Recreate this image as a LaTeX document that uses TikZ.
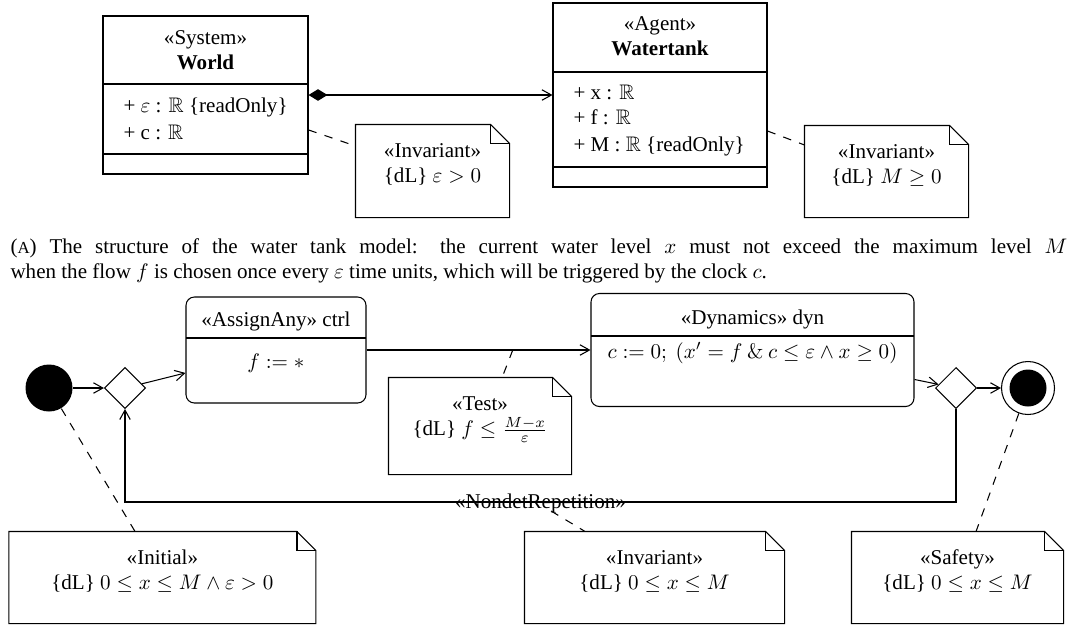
\documentclass[tikz,border=0pt]{standalone}
\usepackage[no-math]{fontspec}
\setmainfont{Liberation Serif}
\usepackage{amssymb}
\usetikzlibrary{shapes.geometric,arrows.meta}

\newcommand\pxl{0.475pt}
\newcommand\umlnote[6]{%
  \node[notebox={#4}{#5}] (#1) at (#2,#3) {};
  \draw (#1.north west) -- ([xshift=-9pt]#1.north east) -- ([yshift=-9pt]#1.north east)
    -- (#1.south east) -- (#1.south west) -- cycle;
  \draw ([xshift=-9pt]#1.north east) |- ([yshift=-9pt]#1.north east);
  \node[align=center, inner sep=0pt] (#1txt) at ([yshift=3pt]#1.center) {#6};
}

\tikzset{
  notebox/.style n args={2}{minimum width=#1*\pxl, minimum height=#2*\pxl, inner sep=0pt},
  clss/.style n args={2}{draw, minimum width=#1*\pxl, minimum height=#2*\pxl, inner sep=0pt},
  actbox/.style n args={2}{clss={#1}{#2}, rounded corners=4pt},
  txt/.style={inner sep=0pt, text height=1.5ex, text depth=.25ex},
  ctrlflow/.style={-{Straight Barb[length=4.5pt,width=5pt]}},
  noteline/.style={dash pattern=on 4pt off 4pt},
  decision/.style={draw, diamond, aspect=1, minimum size=41*\pxl, inner sep=0pt},
}

\begin{document}
\begin{tikzpicture}[x=\pxl, y=-\pxl, line width=0.5pt]
\useasboundingbox (0,0) rectangle (1069,624);

% structure
\node[clss={205}{158}] (world) at (205.5,95) {};
\draw (103,84) -- (308,84);
\draw (103,154) -- (308,154);
\node[txt] (worldst) at (205.5,38) {«System»};
\node[txt] (worldname) at (205.5,63) {\textbf{World}};
\node[txt, anchor=west] (worldeps) at (123,106) {+ $\varepsilon$ : $\mathbb{R}$ \{readOnly\}};
\node[txt, anchor=west] (worldc) at (123,133) {+ c : $\mathbb{R}$};

\node[clss={214}{184}] (tank) at (660,95) {};
\draw (553,72) -- (767,72);
\draw (553,167) -- (767,167);
\node[txt] (tankst) at (660,24) {«Agent»};
\node[txt] (tankname) at (660,49) {\textbf{Watertank}};
\node[txt, anchor=west] (tankx) at (573,93) {+ x : $\mathbb{R}$};
\node[txt, anchor=west] (tankf) at (573,118) {+ f : $\mathbb{R}$};
\node[txt, anchor=west] (tankm) at (573,145) {+ M : $\mathbb{R}$ \{readOnly\}};

\draw[{Diamond[length=9pt,width=5.5pt]}-{Straight Barb[length=4.5pt,width=5pt]}] (world) -- (tank);

\umlnote{worldinv}{432.5}{171}{153}{92}{«Invariant»\\\{dL\} $\varepsilon > 0$}
\umlnote{tankinv}{886.5}{171.5}{163}{91}{«Invariant»\\\{dL\} $M \geq 0$}
\draw[noteline] ([yshift=-16.6pt]world.east) -- ([yshift=11.9pt]worldinv.west);
\draw[noteline] ([yshift=-17.1pt]tank.east) -- ([yshift=12.6pt]tankinv.west);

% caption
\node[anchor=base west, inner sep=0pt] (capa) at (10,253) {\makebox[502pt][s]{({\footnotesize A}) The structure of the water tank model: the current water level $x$ must not exceed the maximum level $M$}};
\node[anchor=base west, inner sep=0pt] (capb) at (10,278) {when the flow $f$ is chosen once every $\varepsilon$ time units, which will be triggered by the clock $c$.};

% activity
\node[circle, fill=black, minimum size=47*\pxl, inner sep=0pt] (start) at (49,388) {};
\node[decision] (d1) at (125,388) {};

\node[actbox={180}{106}] (ctrl) at (276,350) {};
\draw (186,338) -- (366,338);
\node[txt] (ctrlst) at (276,320) {«AssignAny» ctrl};
\node[txt] (ctrlop) at (276,362) {$f := \ast$};

\node[actbox={323}{113}] (dyn) at (752.5,350) {};
\draw (591,336) -- (914,336);
\node[txt] (dynst) at (752.5,318) {«Dynamics» dyn};
\node[txt] (dynop) at (752.5,352) {$c := 0;\ (x' = f \mathbin{\&} c \leq \varepsilon \land x \geq 0)$};

\node[decision] (d2) at (956,388) {};
\node[circle, draw, minimum size=53*\pxl, inner sep=0pt] (final) at (1028,388) {};
\node[circle, fill=black, minimum size=37*\pxl, inner sep=0pt] (finaldot) at (1028,388) {};

\draw[ctrlflow] (start) -- (d1);
\draw[ctrlflow] (d1) -- ([yshift=-10.9pt]ctrl.west);
\draw[ctrlflow] (ctrl) -- (dyn) coordinate[pos=0.653] (guard);
\draw[ctrlflow] ([yshift=-14pt]dyn.east) -- (d2);
\draw[ctrlflow] (d2) -- (final);
\coordinate (loopr) at (956,502);
\draw[ctrlflow] (d2.south) -- (loopr) -| (d1.south) node[pos=0.25, txt] (rep) {«NondetRepetition»};

\umlnote{guardnote}{480}{426}{182}{96}{«Test»\\\{dL\} $f \leq \frac{M-x}{\varepsilon}$}
\draw[noteline] (guard) -- ([xshift=10.5pt]guardnote.north);

\umlnote{initnote}{162.4}{577.5}{306}{91}{«Initial»\\\{dL\} $0 \leq x \leq M \land \varepsilon > 0$}
\umlnote{invnote}{654.5}{577.5}{259}{91}{«Invariant»\\\{dL\} $0 \leq x \leq M$}
\umlnote{safenote}{957.5}{577.5}{211}{91}{«Safety»\\\{dL\} $0 \leq x \leq M$}
\draw[noteline] (start) -- ([xshift=-13pt]initnote.north);
\draw[noteline] ([xshift=5pt]rep.south) -- ([xshift=-33pt]invnote.north);
\draw[noteline] (final) -- ([xshift=8.8pt]safenote.north);
\end{tikzpicture}
\end{document}
